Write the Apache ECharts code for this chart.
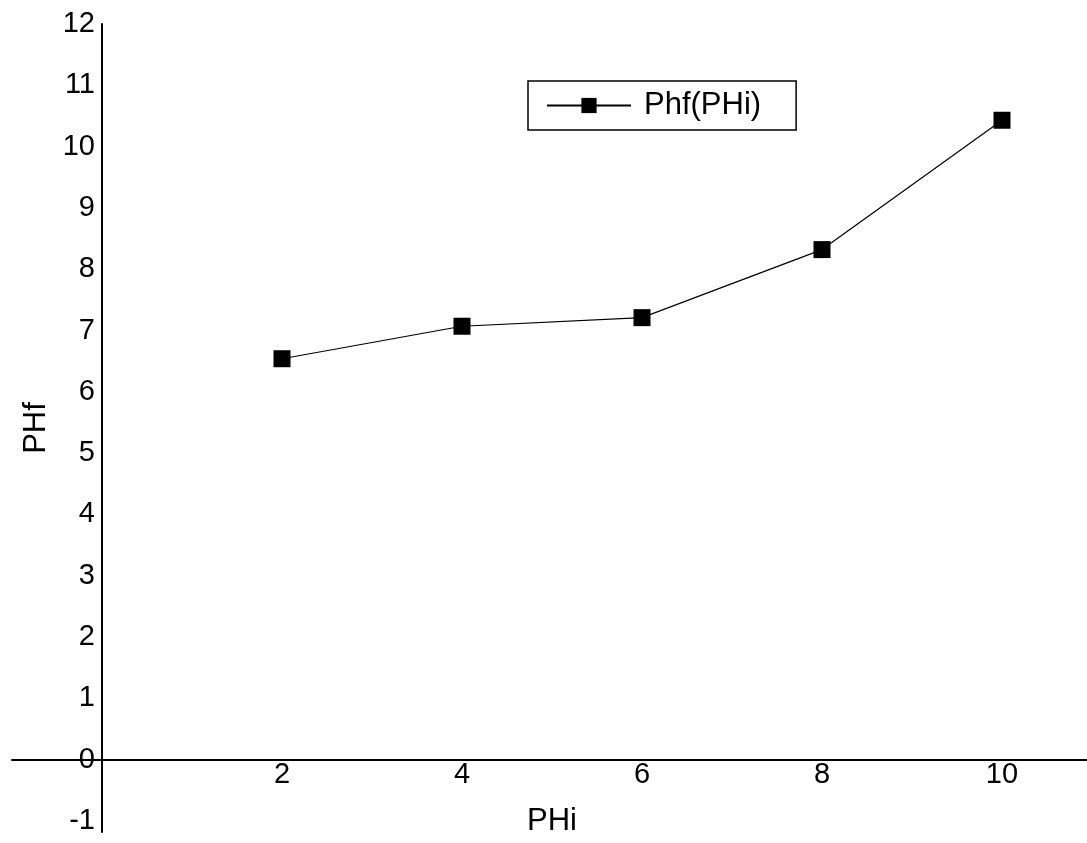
<!DOCTYPE html>
<html>
<head>
<meta charset="utf-8">
<script src="https://cdn.jsdelivr.net/npm/echarts@6/dist/echarts.min.js"></script>
<style>html,body{margin:0;padding:0;background:#fff;}#c{width:1087px;height:843px;}</style>
</head>
<body>
<div id="c"></div>
<script>
const seriesName = 'Phf(PHi)';
const phi = [2, 4, 6, 8, 10];
const phf = [6.54, 7.07, 7.21, 8.32, 10.43];
const xTicks = [2, 4, 6, 8, 10];
const yTicks = [-1, 0, 1, 2, 3, 4, 5, 6, 7, 8, 9, 10, 11, 12];
const xTitle = 'PHi';
const yTitle = 'PHf';

const font = 'Liberation Sans, Arial, sans-serif';
const chart = echarts.init(document.getElementById('c'));
chart.setOption({
  animation: false,
  backgroundColor: '#fff',
  grid: { left: 12, right: -5, top: 24, bottom: 11, containLabel: false, outerBoundsMode: 'none' },
  legend: {
    left: 528, top: 81,
    orient: 'horizontal',
    borderColor: '#000', borderWidth: 1.5, borderRadius: 0,
    padding: [9, 35, 9, 18],
    itemWidth: 84, itemHeight: 19,
    textStyle: { fontFamily: font, fontSize: 31, color: '#000', padding: [0, 0, 0, 8] },
    data: [seriesName]
  },
  xAxis: {
    type: 'value', min: -1, max: 11,
    name: xTitle, nameLocation: 'middle', nameGap: -26,
    nameTextStyle: { fontFamily: font, fontSize: 31, color: '#000' },
    axisLine: { onZero: true, lineStyle: { color: '#000', width: 2 } },
    axisTick: { show: false },
    splitLine: { show: false },
    axisLabel: { customValues: xTicks, fontFamily: font, fontSize: 29, color: '#000', margin: -72 }
  },
  yAxis: {
    type: 'value', min: -1.18, max: 12,
    name: yTitle, nameLocation: 'middle', nameRotate: 90, nameGap: -40,
    nameTextStyle: { fontFamily: font, fontSize: 31, color: '#000' },
    axisLine: { onZero: true, lineStyle: { color: '#000', width: 2 } },
    axisTick: { show: false },
    splitLine: { show: false },
    axisLabel: { customValues: yTicks, fontFamily: font, fontSize: 29, color: '#000', margin: -83 }
  },
  series: [{
    name: seriesName,
    type: 'line',
    data: phi.map((x, i) => [x, phf[i]]),
    symbol: 'rect', symbolSize: 17,
    lineStyle: { color: '#000', width: 1.2 },
    itemStyle: { color: '#000' },
    clip: false
  }]
});
</script>
</body>
</html>
